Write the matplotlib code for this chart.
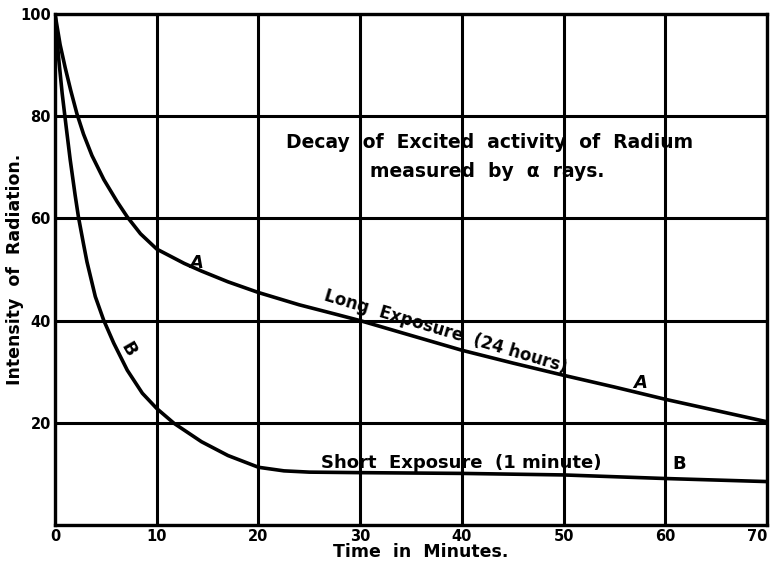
import matplotlib.pyplot as plt

# long exposure (24 hours), curve A
t_long = [0, 0.5, 1.0, 1.55, 2.15, 2.8, 3.63, 4.8, 6.1, 7.1, 8.4, 10, 12.7, 14.4, 17, 20,
          24, 27.7, 30, 35, 40, 45, 50, 55, 60, 65, 70]
i_long = [100, 94, 89.5, 85, 80.5, 76.5, 72.3, 67.6, 63.3, 60.3, 57, 54, 51.2, 49.7, 47.6, 45.5,
          43.1, 41.2, 40, 37.1, 34.2, 31.7, 29.3, 27, 24.6, 22.4, 20.2]

# short exposure (1 minute), curve B
t_short = [0, 0.35, 0.7, 1.09, 1.49, 1.98, 2.3, 2.8, 3.14, 3.96, 4.78, 5.77, 7.1, 8.58,
           10, 11.7, 14.4, 17, 20, 22.5, 25, 30, 40, 50, 60, 70]
i_short = [100, 91.5, 84.5, 78, 71.5, 64.5, 60.3, 55, 51.5, 44.7, 40.1, 35.6, 30.3, 25.8,
           22.8, 19.9, 16.3, 13.6, 11.3, 10.6, 10.35, 10.25, 10.1, 9.8, 9.1, 8.5]

x_ticks = [0, 10, 20, 30, 40, 50, 60, 70]
y_ticks = [20, 40, 60, 80, 100]

fig = plt.figure(figsize=(7.74, 5.69), dpi=100)
ax = fig.add_axes([0.0711, 0.0773, 0.920, 0.898])

ax.set_xlim(0, 70)
ax.set_ylim(0, 100)
ax.set_xticks(x_ticks)
ax.set_yticks([0] + y_ticks)
ax.set_xticklabels([str(v) for v in x_ticks], fontsize=10.5, fontweight='bold')
ax.set_yticklabels([''] + [str(v) for v in y_ticks], fontsize=10.5, fontweight='bold')
ax.get_xticklabels()[-1].set_horizontalalignment('right')
ax.tick_params(length=0)
ax.tick_params(axis='x', pad=3)
ax.tick_params(axis='y', pad=3)
ax.grid(True, color='black', linewidth=2.2)
for s in ax.spines.values():
    s.set_linewidth(2.4)

ax.plot(t_long, i_long, color='black', linewidth=2.6, solid_capstyle='round', solid_joinstyle='round')
ax.plot(t_short, i_short, color='black', linewidth=2.6, solid_capstyle='round', solid_joinstyle='round')

ax.text(42.7, 74.8, "Decay  of  Excited  activity  of  Radium", ha='center', va='center',
        fontsize=13.5, fontweight='bold')
ax.text(42.5, 69.1, "measured  by  α  rays.", ha='center', va='center',
        fontsize=13.5, fontweight='bold')

ax.text(38.4, 37.8, "Long  Exposure  (24 hours)", ha='center', va='center',
        rotation=-16.6, rotation_mode='anchor', fontsize=12, fontweight='bold')
ax.text(39.9, 12.1, "Short  Exposure  (1 minute)", ha='center', va='center',
        fontsize=13, fontweight='bold')

ax.text(13.9, 51.2, "A", ha='center', va='center', fontsize=13, fontweight='bold', style='italic')
ax.text(57.5, 27.8, "A", ha='center', va='center', fontsize=13, fontweight='bold', style='italic')
ax.text(7.2, 34.4, "B", ha='center', va='center', fontsize=13, fontweight='bold', rotation=-60)
ax.text(61.4, 11.9, "B", ha='center', va='center', fontsize=13, fontweight='bold')

ax.set_xlabel("Time  in  Minutes.", fontsize=12.5, fontweight='bold')
ax.xaxis.set_label_coords(0.513, -0.036)
ax.set_ylabel("Intensity  of  Radiation.", fontsize=12.5, fontweight='bold')
ax.yaxis.set_label_coords(-0.043, 0.5)

fig.savefig("out.png", dpi=100)
